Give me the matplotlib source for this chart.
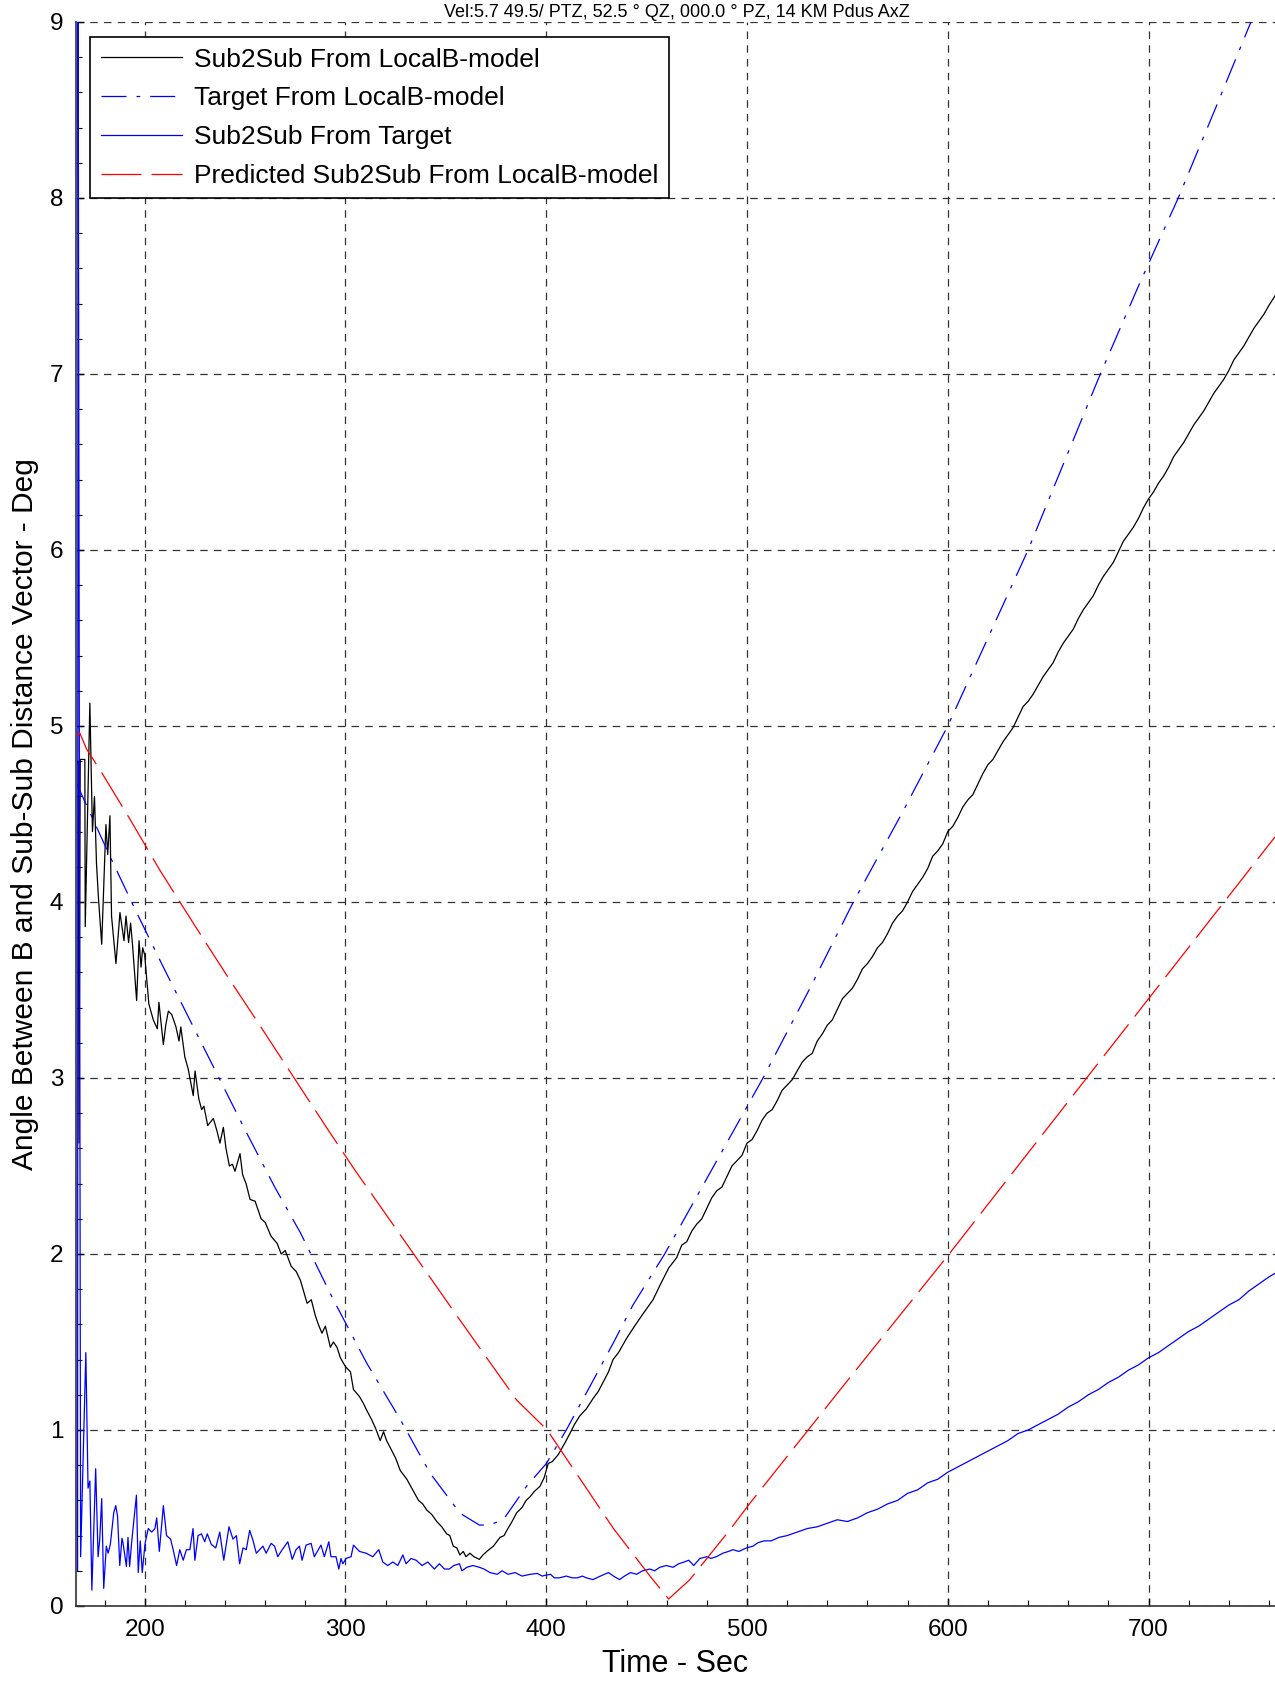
import matplotlib
matplotlib.use('Agg')
import matplotlib.pyplot as plt
from matplotlib.ticker import MultipleLocator

plt.rcParams['font.family'] = ['Liberation Sans', 'DejaVu Sans']

title = 'Vel:5.7 49.5/ PTZ, 52.5 ° QZ, 000.0 ° PZ, 14 KM Pdus AxZ'

# Sub2Sub From LocalB-model (black)
t_black = [165.9, 166.9, 167.3, 167.9, 170.2, 170.4, 172.7, 174.0, 175.0, 176.0, 177.0,
           178.6, 180.7, 181.6, 182.7, 183.5, 185.7, 187.7, 189.7, 190.7, 192.0, 193.0,
           194.0, 196.0, 197.2, 198.2, 199.0, 200.0, 202.1, 204.3, 206.3, 207.1, 209.3,
           210.5, 211.8, 213.5, 215.6, 217.1, 218.0, 220.0, 221.7, 224.2, 225.1, 227.0,
           228.4, 229.5, 231.4, 234.2, 236.0, 237.5, 239.2, 240.5, 242.2, 243.7, 245.0,
           247.5, 248.8, 250.5, 252.5, 255.0, 258.0, 260.0, 263.0, 266.0, 268.0, 270.0,
           273.0, 275.5, 277.6, 280.9, 283.0, 285.0, 286.5, 288.3, 290.0, 292.5, 294.0,
           295.8, 297.5, 300.0, 302.5, 304.0, 307.0, 309.0, 310.7, 313.0, 315.0, 317.3,
           319.0, 320.5, 322.3, 325.0, 327.3, 330.6, 333.0, 336.4, 338.5, 340.5, 343.0,
           345.5, 348.0, 350.4, 352.0, 353.7, 355.5, 357.0, 358.7, 360.0, 362.0, 364.0,
           366.7, 368.5, 370.4, 373.7, 377.0, 379.0, 380.4, 383.0, 385.3, 388.0, 390.0,
           391.9, 394.0, 396.9, 399.0, 401.0, 403.0, 406.0, 409.0, 411.8, 414.0, 416.7,
           420.0, 423.4, 426.0, 428.3, 431.0, 433.3, 436.0, 440.0, 444.0, 448.2, 453.2,
           457.0, 461.0, 465.0, 467.5, 470.0, 472.5, 475.0, 477.5, 480.0, 482.5, 485.0,
           487.5, 490.0, 492.5, 495.0, 497.5, 500.0, 502.5, 505.0, 507.5, 510.0, 512.5,
           515.0, 517.5, 520.0, 522.5, 525.0, 527.5, 530.0, 532.5, 535.0, 537.5, 540.0,
           542.5, 545.0, 547.5, 550.0, 552.5, 555.0, 557.5, 560.0, 562.5, 565.0, 567.5,
           570.0, 572.5, 575.0, 577.5, 580.0, 582.5, 585.0, 587.5, 590.0, 592.5, 595.0,
           597.5, 600.0, 602.5, 605.0, 607.5, 610.0, 612.5, 615.0, 617.5, 620.0, 622.5,
           625.0, 627.5, 630.0, 632.5, 635.0, 637.5, 640.0, 642.5, 645.0, 647.5, 650.0,
           652.5, 655.0, 657.5, 660.0, 662.5, 665.0, 667.5, 670.0, 672.5, 675.0, 677.5,
           680.0, 682.5, 685.0, 687.5, 690.0, 692.5, 695.0, 697.5, 700.0, 702.5, 705.0,
           707.5, 710.0, 712.5, 715.0, 717.5, 720.0, 722.5, 725.0, 727.5, 730.0, 732.5,
           735.0, 737.5, 740.0, 742.5, 745.0, 747.5, 750.0, 752.5, 755.0, 757.5, 760.0,
           765.0]
v_black = [4.78, 4.80, 2.63, 4.81, 4.81, 3.86, 5.13, 4.40, 4.60, 4.22, 4.02,
           3.76, 4.44, 4.27, 4.49, 3.92, 3.65, 3.94, 3.78, 3.92, 3.77, 3.88,
           3.75, 3.44, 3.78, 3.63, 3.74, 3.70, 3.42, 3.33, 3.28, 3.43, 3.19,
           3.30, 3.38, 3.36, 3.29, 3.21, 3.29, 3.12, 3.05, 2.90, 3.04, 2.88,
           2.82, 2.84, 2.73, 2.77, 2.70, 2.63, 2.72, 2.60, 2.50, 2.51, 2.47,
           2.57, 2.45, 2.40, 2.31, 2.30, 2.20, 2.18, 2.10, 2.06, 2.00, 2.02,
           1.93, 1.90, 1.85, 1.72, 1.74, 1.65, 1.60, 1.55, 1.59, 1.47, 1.50,
           1.47, 1.41, 1.36, 1.33, 1.23, 1.19, 1.15, 1.11, 1.06, 1.01, 0.94,
           0.99, 0.94, 0.90, 0.84, 0.77, 0.72, 0.67, 0.60, 0.58, 0.545, 0.52,
           0.48, 0.45, 0.41, 0.40, 0.34, 0.33, 0.29, 0.31, 0.28, 0.30, 0.28,
           0.265, 0.29, 0.31, 0.34, 0.39, 0.40, 0.43, 0.48, 0.53, 0.56, 0.60,
           0.62, 0.65, 0.68, 0.73, 0.81, 0.82, 0.86, 0.92, 0.98, 1.03, 1.08,
           1.12, 1.18, 1.22, 1.27, 1.33, 1.40, 1.44, 1.52, 1.59, 1.66, 1.74,
           1.83, 1.92, 1.98, 2.05, 2.07, 2.13, 2.17, 2.20, 2.26, 2.32, 2.36,
           2.38, 2.44, 2.50, 2.53, 2.56, 2.63, 2.65, 2.70, 2.76, 2.80, 2.82,
           2.87, 2.93, 2.96, 2.99, 3.04, 3.09, 3.12, 3.14, 3.21, 3.25, 3.30,
           3.33, 3.39, 3.45, 3.48, 3.51, 3.56, 3.62, 3.65, 3.69, 3.74, 3.77,
           3.82, 3.88, 3.92, 3.95, 4.00, 4.06, 4.10, 4.14, 4.19, 4.26, 4.29,
           4.33, 4.40, 4.43, 4.48, 4.54, 4.58, 4.61, 4.67, 4.73, 4.78, 4.81,
           4.86, 4.91, 4.95, 4.99, 5.05, 5.11, 5.14, 5.18, 5.23, 5.28, 5.32,
           5.36, 5.42, 5.47, 5.51, 5.55, 5.61, 5.66, 5.70, 5.74, 5.80, 5.85,
           5.89, 5.93, 5.99, 6.05, 6.09, 6.13, 6.18, 6.24, 6.29, 6.33, 6.38,
           6.42, 6.47, 6.53, 6.57, 6.61, 6.66, 6.71, 6.75, 6.79, 6.84, 6.89,
           6.93, 6.97, 7.02, 7.08, 7.12, 7.16, 7.21, 7.26, 7.30, 7.34, 7.39,
           7.48]

# Target From LocalB-model (blue dash-dot)
t_target = [165.8, 182.7, 196.0, 209.3, 222.5, 236.6, 250.7, 264.8, 277.6, 294.0,
            310.6, 327.3, 342.2, 357.1, 366.7, 371.6, 378.6, 390.2, 400.1, 410.0,
            423.3, 433.2, 443.2, 459.0, 483.0, 508.0, 530.0, 553.0, 577.0, 600.0,
            620.0, 640.0, 658.0, 676.0, 695.0, 714.8, 733.0, 751.0, 763.0]
v_target = [4.68, 4.26, 3.94, 3.63, 3.33, 3.01, 2.69, 2.38, 2.12, 1.74,
            1.38, 1.06, 0.754, 0.527, 0.46, 0.46, 0.49, 0.68, 0.81, 1.00,
            1.28, 1.49, 1.71, 2.00, 2.49, 3.00, 3.48, 4.00, 4.50, 5.00,
            5.50, 6.00, 6.50, 7.00, 7.50, 8.00, 8.50, 9.00, 9.33]

# Sub2Sub From Target (blue solid)
t_s2t = [166.0, 166.6, 166.8, 168.1, 170.7, 171.8, 172.7, 173.7, 175.6, 176.8, 177.6,
         178.6, 179.6, 180.9, 181.8, 182.9, 184.6, 185.6, 186.5, 187.6, 188.7, 189.2,
         190.9, 191.7, 192.5, 193.5, 195.9, 196.8, 197.8, 198.8, 200.2, 201.8, 203.5,
         205.1, 206.0, 207.3, 209.3, 210.9, 212.9, 214.2, 215.9, 217.5, 219.2, 220.8,
         222.5, 224.1, 225.0, 226.6, 228.3, 229.9, 231.2, 233.2, 235.4, 237.4, 239.4,
         242.0, 244.0, 245.7, 247.3, 249.0, 250.6, 252.3, 253.9, 255.6, 258.9, 260.5,
         263.0, 264.7, 266.3, 268.5, 271.3, 273.5, 275.4, 277.1, 278.4, 280.4, 282.9,
         284.5, 287.8, 289.5, 291.7, 292.8, 295.3, 296.7, 297.8, 298.7, 300.3, 302.8,
         304.0, 307.0, 310.3, 313.6, 316.6, 318.6, 321.1, 323.6, 326.1, 328.6, 330.2,
         332.7, 335.2, 338.2, 341.0, 344.3, 346.8, 349.3, 351.7, 354.0, 356.8, 358.0,
         360.5, 363.5, 366.7, 369.0, 372.0, 375.6, 378.0, 381.0, 384.5, 388.0, 392.0,
         395.6, 398.0, 400.0, 402.2, 404.0, 406.6, 410.0, 413.0, 415.5, 418.0, 420.0,
         423.3, 427.0, 431.0, 433.5, 436.5, 439.0, 442.0, 445.0, 448.0, 451.6, 454.0,
         456.6, 459.8, 463.2, 466.0, 468.7, 471.0, 473.5, 476.5, 480.0, 482.0, 484.7,
         488.0, 490.8, 493.0, 496.0, 499.7, 503.0, 505.5, 508.5, 512.0, 516.0, 520.0,
         525.0, 530.0, 535.0, 540.0, 545.0, 550.0, 555.0, 560.0, 565.0, 570.0, 575.0,
         580.0, 585.0, 590.0, 595.0, 600.0, 605.0, 610.0, 615.0, 620.0, 625.0, 630.0,
         635.0, 640.0, 645.0, 650.0, 655.0, 660.0, 665.0, 670.0, 675.0, 680.0, 685.0,
         690.0, 695.0, 700.0, 705.0, 710.0, 715.0, 720.0, 725.0, 730.0, 735.0, 740.0,
         745.0, 750.0, 755.0, 760.0, 763.0]
v_s2t = [0.20, 0.20, 9.60, 0.28, 1.44, 0.67, 0.71, 0.09, 0.78, 0.28, 0.375,
         0.61, 0.10, 0.34, 0.30, 0.35, 0.53, 0.57, 0.51, 0.23, 0.385, 0.36,
         0.225, 0.39, 0.225, 0.36, 0.63, 0.19, 0.37, 0.19, 0.356, 0.44, 0.42,
         0.44, 0.50, 0.31, 0.57, 0.40, 0.38, 0.32, 0.23, 0.32, 0.26, 0.32,
         0.32, 0.44, 0.26, 0.40, 0.41, 0.365, 0.41, 0.35, 0.33, 0.42, 0.26,
         0.45, 0.38, 0.40, 0.24, 0.33, 0.32, 0.43, 0.375, 0.30, 0.34, 0.30,
         0.356, 0.34, 0.28, 0.32, 0.365, 0.265, 0.32, 0.34, 0.26, 0.346, 0.356,
         0.28, 0.346, 0.28, 0.365, 0.28, 0.28, 0.21, 0.27, 0.24, 0.27, 0.28,
         0.346, 0.31, 0.30, 0.28, 0.32, 0.25, 0.23, 0.25, 0.23, 0.29, 0.24,
         0.27, 0.26, 0.23, 0.25, 0.21, 0.24, 0.21, 0.21, 0.23, 0.24, 0.20,
         0.22, 0.23, 0.22, 0.21, 0.19, 0.18, 0.20, 0.18, 0.19, 0.17, 0.18,
         0.185, 0.17, 0.176, 0.18, 0.16, 0.16, 0.17, 0.16, 0.16, 0.17, 0.16,
         0.15, 0.17, 0.19, 0.17, 0.15, 0.17, 0.19, 0.18, 0.20, 0.21, 0.20,
         0.22, 0.23, 0.22, 0.24, 0.25, 0.26, 0.23, 0.27, 0.28, 0.27, 0.28,
         0.30, 0.31, 0.32, 0.31, 0.33, 0.34, 0.36, 0.37, 0.37, 0.39, 0.40,
         0.42, 0.44, 0.45, 0.47, 0.49, 0.48, 0.50, 0.53, 0.55, 0.58, 0.60,
         0.64, 0.66, 0.70, 0.72, 0.76, 0.79, 0.82, 0.85, 0.88, 0.91, 0.94,
         0.98, 1.00, 1.03, 1.06, 1.09, 1.13, 1.16, 1.20, 1.23, 1.27, 1.30,
         1.34, 1.37, 1.41, 1.44, 1.48, 1.52, 1.56, 1.59, 1.63, 1.67, 1.71,
         1.74, 1.79, 1.83, 1.87, 1.89]

# Predicted Sub2Sub From LocalB-model (red dashed)
t_pred = [166.1, 167.7, 171.0, 177.8, 192.7, 207.6, 224.2, 240.8, 257.3, 273.9,
          290.5, 304.5, 334.0, 357.0, 385.3, 400.5, 433.5, 451.9, 461.0, 471.4,
          491.3, 501.2, 550.0, 600.0, 650.0, 700.0, 763.0]
v_pred = [4.94, 4.96, 4.87, 4.75, 4.47, 4.18, 3.88, 3.585, 3.30, 3.01,
          2.72, 2.48, 2.00, 1.625, 1.17, 1.00, 0.44, 0.167, 0.04, 0.148,
          0.43, 0.58, 1.28, 1.99, 2.72, 3.45, 4.37]

fig = plt.figure(figsize=(12.75, 16.82), dpi=100)
ax = fig.add_axes([76 / 1275, 76 / 1682, 1 - 76 / 1275, (1606 - 22) / 1682])

ax.plot(t_black, v_black, color='black', lw=0.9, label='Sub2Sub From LocalB-model')
ax.plot(t_target, v_target, color='#0000ff', lw=0.9, linestyle=(0, (20, 8, 3, 8)),
        label='Target From LocalB-model')
ax.plot(t_s2t, v_s2t, color='#0000ff', lw=0.9, label='Sub2Sub From Target')
ax.plot(t_pred, v_pred, color='#ff0000', lw=0.9, linestyle=(0, (32, 8)),
        label='Predicted Sub2Sub From LocalB-model')

ax.set_xlim(165.8, 763)
ax.set_ylim(0, 9)
ax.xaxis.set_major_locator(MultipleLocator(100))
ax.xaxis.set_minor_locator(MultipleLocator(20))
ax.yaxis.set_major_locator(MultipleLocator(1))
ax.yaxis.set_minor_locator(MultipleLocator(0.2))
ax.tick_params(which='both', direction='in', labelsize=17.5, pad=9)
ax.tick_params(which='major', length=6, width=1)
ax.tick_params(which='minor', length=4, width=0.8)
ax.grid(True, which='major', color='#333333', linestyle=(0, (6, 5)), lw=0.9)

ax.spines['top'].set_visible(False)
ax.spines['right'].set_visible(False)
ax.spines['left'].set_color('#555555')
ax.spines['left'].set_linewidth(1.5)
ax.spines['bottom'].set_color('#333333')
ax.spines['bottom'].set_linewidth(1.2)

ax.set_xlabel('Time - Sec', fontsize=22, labelpad=6)
ax.set_ylabel('Angle Between B and Sub-Sub Distance Vector - Deg', fontsize=21.5, labelpad=8)

leg = ax.legend(loc='upper left', bbox_to_anchor=(14 / 1199, 1 - 15 / 1584), fontsize=19,
                frameon=True, fancybox=False, edgecolor='black', framealpha=1,
                handlelength=3.1, handletextpad=0.45, labelspacing=0.56, borderpad=0.4,
                borderaxespad=0)
leg.get_frame().set_linewidth(1.2)

fig.text(0.531, 1 - 17 / 1682, title, ha='center', va='baseline', fontsize=13)

fig.savefig('out.png', dpi=100)
